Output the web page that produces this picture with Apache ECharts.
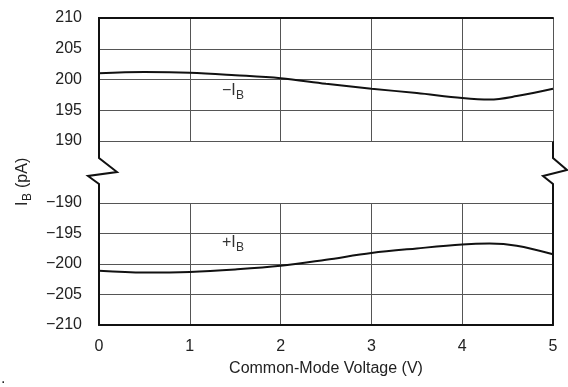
<!DOCTYPE html>
<html>
<head>
<meta charset="utf-8">
<script src="https://cdn.jsdelivr.net/npm/echarts@6/dist/echarts.min.js"></script>
<style>
  html, body { margin: 0; padding: 0; background: #fff; }
  #chart { width: 568px; height: 387px; }
</style>
</head>
<body>
<div id="chart"></div>
<script>
// data
var volts = [0, 0.5, 1, 1.5, 2, 2.5, 3, 3.5, 4, 4.3, 4.6, 5];
var ibMinus = [201.0, 201.2, 201.1, 200.7, 200.2, 199.3, 198.5, 197.8, 197.0, 196.75, 197.3, 198.5];
var ibPlus = [-201.1, -201.4, -201.3, -200.9, -200.3, -199.3, -198.2, -197.45, -196.8, -196.65, -197.0, -198.4];
var upperRange = [190, 210];
var lowerRange = [-210, -190];

// layout
var L = 99, R = 553, T1 = 18, B1 = 141, T2 = 203, B2 = 325;
var font = '"Liberation Sans", Arial, sans-serif';
var ink = '#111';
var gridColor = '#555';

function pairs(xs, ys) {
  return xs.map(function (x, i) { return [x, ys[i]]; });
}
function fmt(v) {
  return v < 0 ? '\u2212' + Math.abs(v) : String(v);
}

var thick = { show: true, lineStyle: { color: ink, width: 2 } };
var split = { show: true, lineStyle: { color: gridColor, width: 1 } };
var labelStyle = { fontFamily: font, fontSize: 16, color: '#222' };

function xAx(grid, extra) {
  return Object.assign({
    gridIndex: grid, type: 'value', min: 0, max: 5, interval: 1,
    axisLine: { show: false }, axisTick: { show: false },
    axisLabel: { show: false }, splitLine: { show: false }
  }, extra);
}
function yAx(grid, range, extra) {
  return Object.assign({
    gridIndex: grid, type: 'value', min: range[0], max: range[1], interval: 5,
    axisLine: { show: false }, axisTick: { show: false },
    axisLabel: { show: false }, splitLine: { show: false }
  }, extra);
}

var options = {
  animation: false,
  grid: [
    { left: L, top: T1, width: R - L, height: B1 - T1 },
    { left: L, top: T2, width: R - L, height: B2 - T2 }
  ],
  xAxis: [
    xAx(0, { splitLine: split }),
    xAx(0, { position: 'top', axisLine: thick }),
    xAx(1, {
      position: 'bottom', axisLine: thick, splitLine: split,
      axisLabel: Object.assign({ show: true, margin: 14 }, labelStyle),
      name: 'Common-Mode Voltage (V)', nameLocation: 'middle', nameGap: 36,
      nameTextStyle: { fontFamily: font, fontSize: 16, color: '#222' }
    })
  ],
  yAxis: [
    yAx(0, upperRange, { axisLine: thick, splitLine: split,
      axisLabel: Object.assign({ show: true, margin: 17, formatter: fmt }, labelStyle) }),
    yAx(0, upperRange, { position: 'right', axisLine: thick }),
    yAx(1, lowerRange, { axisLine: thick, splitLine: split,
      axisLabel: Object.assign({ show: true, margin: 17, formatter: fmt }, labelStyle) }),
    yAx(1, lowerRange, { position: 'right', axisLine: thick })
  ],
  series: [
    {
      name: '-IB', type: 'line', xAxisIndex: 0, yAxisIndex: 0,
      data: pairs(volts, ibMinus), smooth: 0.35, symbol: 'none',
      lineStyle: { color: ink, width: 2 }
    },
    {
      name: '+IB', type: 'line', xAxisIndex: 2, yAxisIndex: 2,
      data: pairs(volts, ibPlus), smooth: 0.35, symbol: 'none',
      lineStyle: { color: ink, width: 2 }
    }
  ],
  graphic: [
    // axis break marks
    { type: 'polyline', silent: true,
      shape: { points: [[L, B1], [L, 158], [L + 18, 172], [L - 11, 176], [L, 184], [L, T2]] },
      style: { stroke: ink, lineWidth: 2, fill: null } },
    { type: 'polyline', silent: true,
      shape: { points: [[R, B1], [R, 158], [R + 14, 170], [R - 10, 176], [R, 184], [R, T2]] },
      style: { stroke: ink, lineWidth: 2, fill: null } },
    // curve labels
    { type: 'group', left: 222, top: 83, children: [
      { type: 'text', style: { text: '\u2212I', font: '16px ' + font, fill: '#333' } },
      { type: 'text', x: 14, y: 7, style: { text: 'B', font: '12px ' + font, fill: '#333' } }
    ] },
    { type: 'group', left: 222, top: 235, children: [
      { type: 'text', style: { text: '+I', font: '16px ' + font, fill: '#333' } },
      { type: 'text', x: 14, y: 7, style: { text: 'B', font: '12px ' + font, fill: '#333' } }
    ] },
    // y-axis title
    { type: 'group', x: 15, y: 206, rotation: Math.PI / 2, children: [
      { type: 'text', x: 0, y: 0, style: { text: 'I', font: '16px ' + font, fill: '#222' } },
      { type: 'text', x: 5, y: 7, style: { text: 'B', font: '12px ' + font, fill: '#222' } },
      { type: 'text', x: 18, y: 0, style: { text: '(pA)', font: '16px ' + font, fill: '#222' } }
    ] },
    { type: 'text', left: 1, top: 371, style: { text: '.', font: '16px ' + font, fill: '#222' } }
  ]
};

var chart = echarts.init(document.getElementById('chart'));
chart.setOption(options);
</script>
</body>
</html>
